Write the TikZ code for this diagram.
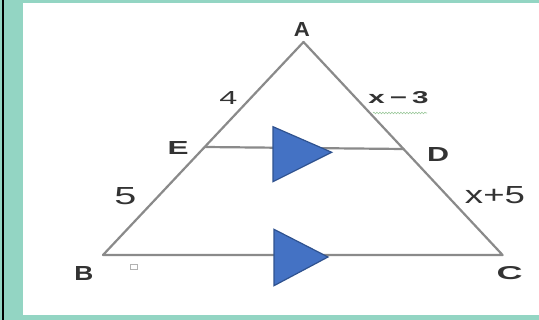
\documentclass[tikz,border=0pt]{standalone}
\usepackage{fontspec}
\setmainfont{Liberation Sans}
\usetikzlibrary{decorations.pathmorphing}
\definecolor{framegreen}{HTML}{93D5C3}
\definecolor{edgegray}{HTML}{8A8A8A}
\definecolor{txtgray}{HTML}{333333}
\definecolor{markblue}{HTML}{4472C4}
\definecolor{markedge}{HTML}{2F528F}
\newcommand{\lbox}[3]{\resizebox{#1pt}{#2pt}{#3}}
\begin{document}
\begin{tikzpicture}[x=1pt,y=-1pt,
  edge/.style={draw=edgegray,line width=2.2pt,line cap=round,line join=round},
  lbl/.style={inner sep=0pt,outer sep=0pt,text=txtgray},
  marker/.style={fill=markblue,draw=markedge,line width=1.2pt,line join=miter}]
\useasboundingbox (0,0) rectangle (539,320);
\fill[framegreen] (0,0) rectangle (539,320);
\fill[black] (1.7,0) rectangle (4.3,320);
\fill[white] (23,3) rectangle (539,315);
% vertices
\coordinate (A) at (303.5,42);
\coordinate (B) at (103,255);
\coordinate (C) at (502.6,255);
\coordinate (E) at (204.7,147);
\coordinate (D) at (403.5,149);
% triangle and parallel
\draw[edge] (A) -- (B) -- (C) -- cycle;
\draw[edge] (E) -- (D);
% markers
\draw[marker] (273,126.7) -- (331.7,152.3) -- (273,181.7) -- cycle;
\draw[marker] (274,229.3) -- (328,257) -- (274,285.7) -- cycle;
% labels
\node[lbl] (lA) at (302,30) {\lbox{16}{14}{\bfseries A}};
\node[lbl] (lB) at (84,274) {\lbox{19}{14}{\bfseries B}};
\node[lbl] (lC) at (509.5,273.5) {\lbox{26}{13}{\bfseries C}};
\node[lbl] (lD) at (438,155) {\lbox{22}{14}{\bfseries D}};
\node[lbl] (lE) at (178,148.5) {\lbox{21}{13}{\bfseries E}};
\node[lbl] (l4) at (228.5,98.5) {\lbox{18}{13}{4}};
\node[lbl] (l5) at (125.5,196.5) {\lbox{22}{17}{5}};
\node[lbl] (lxm) at (398.5,97.5) {\lbox{60}{12}{\bfseries x\,−\,3}};
\node[lbl] (lxp) at (495,195.5) {\lbox{60}{17}{x+5}};
% squiggle under x-3
\draw[draw=gray!70!green!60,line width=0.6pt,decorate,decoration={snake,amplitude=0.8pt,segment length=3pt}] (373,113) -- (427,113);
% small square near B
\draw[draw=gray!60,line width=1pt] (130.5,264.5) rectangle (137.5,269.5);
\end{tikzpicture}
\end{document}
